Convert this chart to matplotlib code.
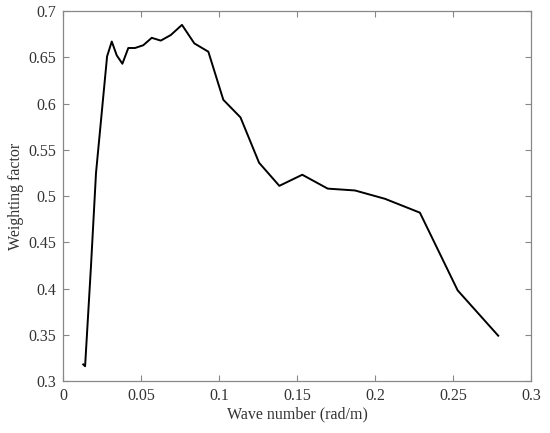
import matplotlib
matplotlib.use('Agg')
import matplotlib.pyplot as plt

# wave number (rad/m) and weighting factor
wave_number = [0.0128, 0.0140, 0.0178, 0.0210, 0.0281, 0.0311, 0.0343, 0.0379,
               0.0417, 0.0460, 0.0513, 0.0567, 0.0625, 0.0689, 0.0761, 0.0840,
               0.0930, 0.1026, 0.1136, 0.1255, 0.1385, 0.1532, 0.1695, 0.1870,
               0.2062, 0.2286, 0.2528, 0.2788]
weighting = [0.318, 0.316, 0.425, 0.525, 0.651, 0.667, 0.652, 0.643,
             0.660, 0.660, 0.663, 0.671, 0.668, 0.674, 0.685, 0.665,
             0.656, 0.604, 0.585, 0.536, 0.511, 0.523, 0.508, 0.506,
             0.497, 0.482, 0.398, 0.349]

xticks = [0, 0.05, 0.1, 0.15, 0.2, 0.25, 0.3]
xticklabels = ['0', '0.05', '0.1', '0.15', '0.2', '0.25', '0.3']
yticks = [0.3, 0.35, 0.4, 0.45, 0.5, 0.55, 0.6, 0.65, 0.7]
yticklabels = ['0.3', '0.35', '0.4', '0.45', '0.5', '0.55', '0.6', '0.65', '0.7']

plt.rcParams['font.family'] = ['Liberation Serif', 'DejaVu Serif']

fig = plt.figure(figsize=(5.5, 4.33), dpi=100)
ax = fig.add_axes([0.115, 0.12, 0.851, 0.8546])

ax.plot(wave_number, weighting, color='black', lw=1.4)

ax.set_xlim(0, 0.3)
ax.set_ylim(0.3, 0.7)
ax.set_xticks(xticks)
ax.set_xticklabels(xticklabels)
ax.set_yticks(yticks)
ax.set_yticklabels(yticklabels)

for s in ax.spines.values():
    s.set_color('#888888')
    s.set_linewidth(0.9)
ax.tick_params(direction='in', top=True, right=True, length=4, width=0.8,
               color='#888888', labelcolor='#333333', labelsize=11.5, pad=5)

ax.set_xlabel('Wave number (rad/m)', fontsize=11.5, color='#333333', labelpad=2)
ax.set_ylabel('Weighting factor', fontsize=11.5, color='#333333', labelpad=3)

fig.savefig('out.png', dpi=100)
